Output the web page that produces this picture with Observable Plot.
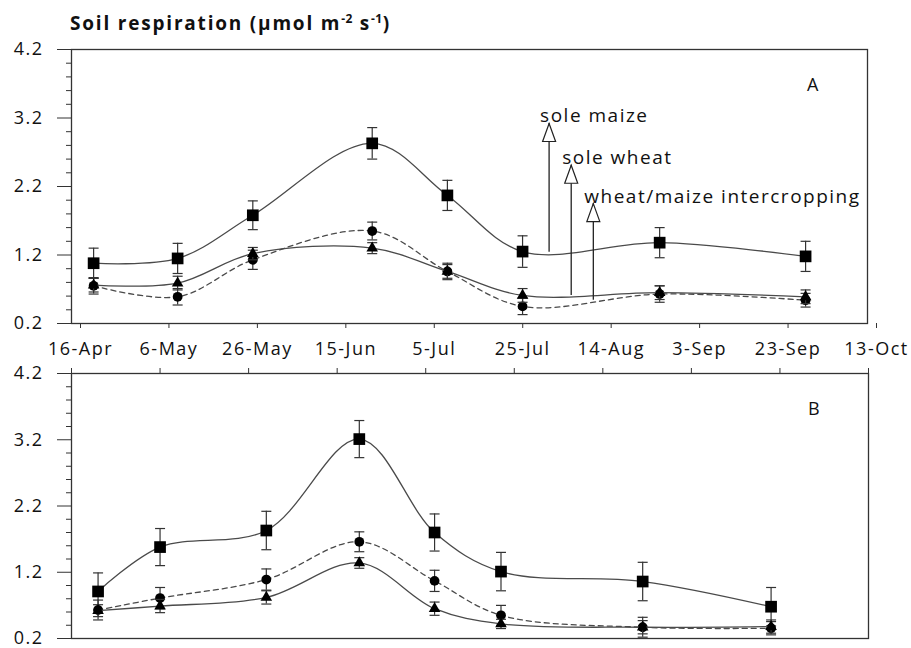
<!DOCTYPE html>
<html><head><meta charset="utf-8">
<script src="https://cdn.jsdelivr.net/npm/d3@7"></script>
<script src="https://cdn.jsdelivr.net/npm/@observablehq/plot@0.6"></script>
<style>
body{margin:0;background:#fff;}
#wrap{position:relative;width:911px;height:648px;overflow:hidden;}
#title{position:absolute;left:70px;top:10px;font:bold 19px "Open Sans",sans-serif;letter-spacing:1.8px;color:#111;white-space:nowrap;}
#title sup{font-size:12px;vertical-align:0;position:relative;top:-7px;letter-spacing:0.5px;}
svg{display:block}
</style></head><body>
<div id="wrap"><div id="chart"></div><div id="title">Soil respiration (μmol m<sup>-2</sup> s<sup>-1</sup>)</div></div>
<script>
// ---- data ----
const tickLabels = ["16-Apr","6-May","26-May","15-Jun","5-Jul","25-Jul","14-Aug","3-Sep","23-Sep","13-Oct"];
const yMajor = [0.2,1.2,2.2,3.2,4.2];
const yMinor = [0.4,0.6,0.8,1.0,1.4,1.6,1.8,2.0,2.4,2.6,2.8,3.0,3.4,3.6,3.8,4.0];
const seriesNames = ["sole maize","sole wheat","wheat/maize intercropping"];

const datesA = ["21-Apr","10-May","27-May","23-Jun","10-Jul","27-Jul","27-Aug","29-Sep"];
const maizeA = [1.08,1.15,1.78,2.83,2.07,1.25,1.38,1.18];
const maizeAErr = [0.22,0.22,0.21,0.23,0.22,0.23,0.22,0.22];
const wheatA = [0.76,0.79,1.22,1.30,0.96,0.61,0.65,0.59];
const wheatAErr = [0.1,0.1,0.09,0.08,0.1,0.1,0.1,0.1];
const interA = [0.75,0.59,1.13,1.55,0.96,0.45,0.63,0.54];
const interAErr = [0.12,0.12,0.14,0.13,0.12,0.12,0.12,0.1];

const datesB = ["22-Apr","6-May","30-May","20-Jun","7-Jul","22-Jul","23-Aug","21-Sep"];
const maizeB = [0.91,1.58,1.83,3.21,1.80,1.21,1.06,0.68];
const maizeBErr = [0.28,0.28,0.29,0.28,0.28,0.29,0.29,0.29];
const wheatB = [0.62,0.69,0.82,1.34,0.65,0.42,0.37,0.38];
const wheatBErr = [0.09,0.1,0.1,0.08,0.1,0.07,0.1,0.1];
const interB = [0.63,0.81,1.09,1.66,1.07,0.55,0.37,0.355];
const interBErr = [0.15,0.16,0.16,0.15,0.16,0.15,0.15,0.1];

// annotation arrows in panel A (data coordinates)
const annotDates = ["2-Aug","7-Aug","12-Aug"];
const annotBase = [1.24,0.61,0.54];
const annotTip = [3.12,2.51,1.95];

// ---- helpers ----
const parse = d3.utcParse("%d-%b-%Y");
const toDate = s => parse(s + "-2017");
const xTicks = tickLabels.map(toDate);
const xDomain = [xTicks[0], xTicks[xTicks.length - 1]];
const rows = (dates, vals, errs, s) => dates.map((d, i) => ({date: toDate(d), v: vals[i], e: errs[i], s}));

const capSymbol = {draw(ctx){ ctx.moveTo(-5, 0); ctx.lineTo(5, 0); }};
const headSymbol = {draw(ctx){ ctx.moveTo(0, 0); ctx.lineTo(6.5, 18); ctx.lineTo(-6.5, 18); ctx.closePath(); }};

const lineColor = "#4a4a4a";
const axisColor = "#333";

function seriesMarks(data, dash, symbol, r) {
  return [
    Plot.line(data, {x: "date", y: "v", curve: "catmull-rom", stroke: lineColor, strokeWidth: 1.3, strokeDasharray: dash}),
    Plot.ruleX(data, {x: "date", y1: d => d.v - d.e, y2: d => d.v + d.e, stroke: axisColor, strokeWidth: 1.2}),
    Plot.dot(data, {x: "date", y: d => d.v + d.e, symbol: capSymbol, stroke: axisColor, fill: "none", strokeWidth: 1.2}),
    Plot.dot(data, {x: "date", y: d => d.v - d.e, symbol: capSymbol, stroke: axisColor, fill: "none", strokeWidth: 1.2}),
    Plot.dot(data, {x: "date", y: "v", symbol, r, fill: "#000", stroke: "none"})
  ];
}

function panelMarks(m, w, it, label, xAxis) {
  return [
    Plot.axisY({ticks: yMinor, tickSize: 5, tickFormat: () => "", stroke: axisColor, label: null}),
    Plot.axisY({ticks: yMajor, tickSize: 14, tickPadding: 14, tickFormat: d3.format(".1f"), stroke: axisColor, fill: "#111", label: null}),
    xAxis,
    ...seriesMarks(m, null, "square", 6.6),
    ...seriesMarks(it, "5,4", "circle", 4.9),
    ...seriesMarks(w, null, "triangle", 4.3),
    Plot.frame({stroke: axisColor, strokeWidth: 1.3}),
    Plot.text([label], {frameAnchor: "top-right", dx: -54, dy: 36, lineAnchor: "middle", textAnchor: "middle", fontSize: 18, fill: "#111"})
  ];
}

const commonStyle = {fontFamily: "'Open Sans', sans-serif", fontSize: "18px", letterSpacing: "1.5px", color: "#111", background: "#fff"};

const mA = rows(datesA, maizeA, maizeAErr, seriesNames[0]);
const wA = rows(datesA, wheatA, wheatAErr, seriesNames[1]);
const iA = rows(datesA, interA, interAErr, seriesNames[2]);
const mB = rows(datesB, maizeB, maizeBErr, seriesNames[0]);
const wB = rows(datesB, wheatB, wheatBErr, seriesNames[1]);
const iB = rows(datesB, interB, interBErr, seriesNames[2]);

const annots = annotDates.map((d, i) => ({date: toDate(d), base: annotBase[i], tip: annotTip[i], label: seriesNames[i]}));

const plotA = Plot.plot({
  width: 911, height: 360,
  marginTop: 49, marginBottom: 37, marginLeft: 71, marginRight: 44,
  style: commonStyle,
  x: {type: "utc", domain: xDomain, label: null},
  y: {domain: [0.2, 4.2], label: null},
  marks: [
    ...panelMarks(mA, wA, iA, "A",
      Plot.axisX({anchor: "bottom", ticks: xTicks, tickSize: 5, tickPadding: 14, dx: 9, tickFormat: d3.utcFormat("%-d-%b"), stroke: axisColor, fill: "#111", label: null})),
    Plot.ruleX(annots, {x: "date", y1: "base", y2: "tip", stroke: "#222", strokeWidth: 1.3}),
    Plot.dot(annots, {x: "date", y: "tip", symbol: headSymbol, fill: "#fff", stroke: "#222", strokeWidth: 1.2}),
    Plot.text(annots, {x: "date", y: "tip", text: "label", textAnchor: "start", lineAnchor: "bottom", dx: -9, dy: -1, fontSize: 19, letterSpacing: "1.7px", fill: "#111"})
  ]
});

const plotB = Plot.plot({
  width: 911, height: 288,
  marginTop: 13, marginBottom: 10, marginLeft: 71, marginRight: 43,
  style: commonStyle,
  x: {type: "utc", domain: xDomain, label: null},
  y: {domain: [0.2, 4.2], label: null},
  marks: panelMarks(mB, wB, iB, "B",
    Plot.axisX({anchor: "top", ticks: xTicks, tickSize: 6, tickFormat: () => "", stroke: axisColor, label: null}))
});

document.getElementById("chart").append(plotA, plotB);
</script>
</body></html>
